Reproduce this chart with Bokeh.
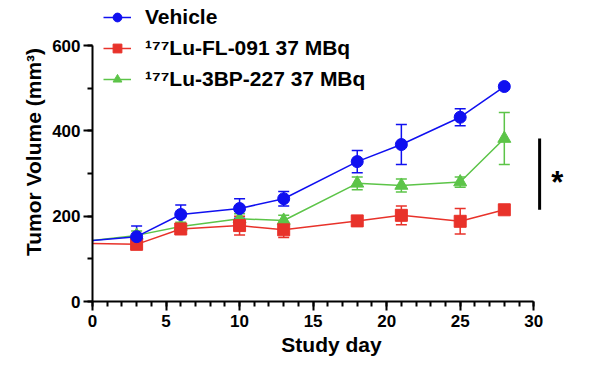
from bokeh.plotting import figure
from bokeh.models import (Range1d, Whisker, ColumnDataSource, Legend, LegendItem,
                          TeeHead, FixedTicker)
from bokeh.embed import file_html
from bokeh.resources import INLINE
from bokeh.core.properties import value

days = [0, 3, 6, 10, 13, 18, 21, 25, 28]
vehicle = [143, 152, 204, 218, 241, 328, 368, 432, 504]
vehicle_err = [0, 25, 22, 23, 17, 26, 47, 20, 5]
fl091 = [136, 134, 170, 178, 168, 189, 202, 188, 215]
fl091_err = [0, 10, 10, 22, 18, 10, 22, 30, 10]
bp227 = [143, 155, 176, 194, 190, 277, 272, 280, 382]
bp227_err = [0, 10, 10, 12, 12, 15, 15, 12, 61]

labels = ["Vehicle", "\u00b9\u2077\u2077Lu-FL-091 37 MBq", "\u00b9\u2077\u2077Lu-3BP-227 37 MBq"]
x_ticks = [0, 5, 10, 15, 20, 25, 30]
y_ticks = [0, 200, 400, 600]

BLUE = "#1010f0"
RED = "#e8322a"
GREEN = "#5cc448"
FONT = "Liberation Sans"

p = figure(width=583, height=358, output_backend="svg", toolbar_location=None,
           x_range=Range1d(0, 32.5), y_range=Range1d(0, 701),
           min_border_left=92, min_border_right=13, min_border_top=2,
           min_border_bottom=57)
p.outline_line_color = None
p.grid.visible = False
p.background_fill_color = "white"

for ax in (p.xaxis[0], p.yaxis[0]):
    ax.axis_line_width = 2
    ax.axis_line_color = "black"
    ax.major_tick_line_width = 2
    ax.minor_tick_line_width = 2
    ax.major_tick_in = 0
    ax.major_tick_out = 9
    ax.minor_tick_in = 0
    ax.minor_tick_out = 5
    ax.major_label_text_font = FONT
    ax.major_label_text_font_style = "bold"
    ax.major_label_text_font_size = "17px"
    ax.major_label_text_color = "black"
    ax.axis_label_text_font = FONT
    ax.axis_label_text_font_style = "bold"
    ax.axis_label_text_font_size = "21px"
    ax.axis_label_text_color = "black"

p.xaxis.bounds = (0, 30)
p.yaxis.bounds = (0, 600)
p.xaxis.ticker = FixedTicker(ticks=x_ticks, minor_ticks=list(range(0, 31)))
p.yaxis.ticker = FixedTicker(ticks=y_ticks, minor_ticks=list(range(0, 601, 100)))
p.xaxis.axis_label = "Study day"
p.yaxis.axis_label = "Tumor Volume (mm\u00b3)"
p.xaxis.major_label_standoff = 4
p.xaxis.axis_label_standoff = 3
p.yaxis.major_label_standoff = 3
p.yaxis.axis_label_standoff = 4

series = [
    (bp227, bp227_err, GREEN, "triangle", 13),
    (fl091, fl091_err, RED, "square", 12),
    (vehicle, vehicle_err, BLUE, "circle", 12),
]
rend = {}
for vals, errs, col, mk, sz in series:
    src = ColumnDataSource(dict(
        x=days[1:], y=vals[1:],
        up=[v + e for v, e in zip(vals[1:], errs[1:])],
        lo=[v - e for v, e in zip(vals[1:], errs[1:])]))
    w = Whisker(base="x", upper="up", lower="lo", source=src, line_color=col,
                line_width=1.5,
                upper_head=TeeHead(size=11, line_color=col, line_width=1.5),
                lower_head=TeeHead(size=11, line_color=col, line_width=1.5))
    p.add_layout(w)
    ln = p.line(days, vals, line_color=col, line_width=1.5)
    sc = p.scatter("x", "y", source=src, marker=mk, size=sz, fill_color=col,
                   line_color=col)
    rend[col] = [ln, sc]

# significance bar between the last points of the two treatment groups
sig_x = 30.4
p.segment(x0=[sig_x], y0=[fl091[-1]], x1=[sig_x], y1=[bp227[-1]],
          line_color="black", line_width=3)
p.text(x=[31.6], y=[(fl091[-1] + bp227[-1]) / 2 - 19], text=["*"],
       text_font=value(FONT), text_font_style="bold", text_font_size="31px",
       text_align="center", text_baseline="middle", text_color="black")

legend = Legend(items=[
    LegendItem(label=labels[0], renderers=rend[BLUE]),
    LegendItem(label=labels[1], renderers=rend[RED]),
    LegendItem(label=labels[2], renderers=rend[GREEN]),
], location=(11, 210))
legend.padding = 0
legend.margin = 0
legend.spacing = 7
legend.glyph_width = 28
legend.glyph_height = 22
legend.label_height = 22
legend.label_standoff = 14
legend.label_text_font = FONT
legend.label_text_font_style = "bold"
legend.label_text_font_size = "21px"
legend.label_text_color = "black"
legend.border_line_color = None
legend.background_fill_alpha = 0
p.add_layout(legend)

open("out.html", "w").write(file_html(p, INLINE))
